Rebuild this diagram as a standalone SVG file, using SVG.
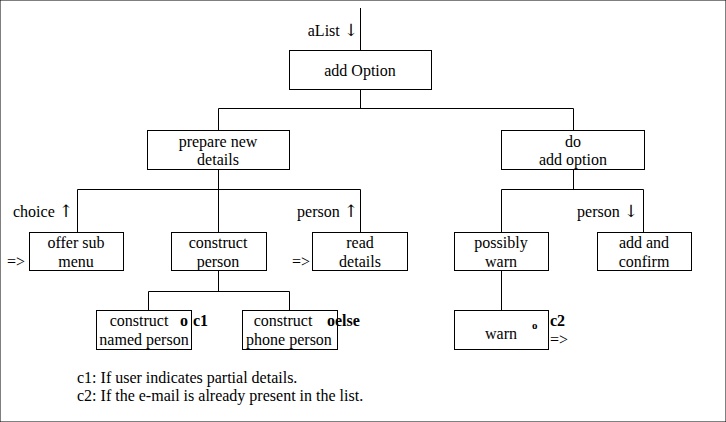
<svg xmlns="http://www.w3.org/2000/svg" width="726" height="422" viewBox="0 0 726 422">
<style>
text{font-family:"Liberation Serif","Times New Roman",serif;font-size:16px;fill:#000}
.c{text-anchor:middle}
.e{text-anchor:end}
.b{font-weight:bold}
.a{font-family:"DejaVu Serif",serif;font-size:17px;fill:#000}
rect{fill:#fff;stroke:#000;stroke-width:1}
line,polyline{stroke:#000;stroke-width:1;fill:none}
</style>
<rect width="726" height="422" fill="#fff" stroke="none"/>
<g id="connectors">
<line x1="360.5" y1="8" x2="360.5" y2="50"/>
<line x1="360.5" y1="89" x2="360.5" y2="108.5"/>
<polyline points="218.5,130 218.5,108.5 573.5,108.5 573.5,130"/>
<line x1="218.5" y1="170" x2="218.5" y2="232"/>
<polyline points="77.5,232 77.5,189.5 360.5,189.5 360.5,232"/>
<line x1="573.5" y1="169" x2="573.5" y2="189.5"/>
<polyline points="501.5,232 501.5,189.5 643.5,189.5 643.5,232"/>
<line x1="218.5" y1="270" x2="218.5" y2="291.5"/>
<polyline points="148.5,310 148.5,291.5 289.5,291.5 289.5,310"/>
<line x1="501.5" y1="270" x2="501.5" y2="310"/>
<text x="358" y="36" class="e">aList <tspan class="a">↓&#xFE0E;</tspan></text>
<text x="73" y="217" class="e">choice <tspan class="a">↑&#xFE0E;</tspan></text>
<text x="358" y="217" class="e">person <tspan class="a">↑&#xFE0E;</tspan></text>
<text x="638" y="217" class="e">person <tspan class="a">↓&#xFE0E;</tspan></text>
<text x="7" y="267">=&gt;</text>
<text x="292" y="267">=&gt;</text>
<text x="550" y="345">=&gt;</text>
</g>
<g id="addOption"><rect x="289.5" y="50.5" width="142" height="39"/><text x="360" y="76" class="c">add Option</text></g>
<g id="prepare"><rect x="147.5" y="130.5" width="142" height="39"/><text x="218" y="147" class="c">prepare new</text><text x="218" y="165" class="c">details</text></g>
<g id="doAdd"><rect x="501.5" y="130.5" width="143" height="39"/><text x="573" y="147" class="c">do</text><text x="573" y="165" class="c">add option</text></g>
<g id="offer"><rect x="29.5" y="232.5" width="94" height="38"/><text x="76" y="248" class="c">offer sub</text><text x="76" y="267" class="c">menu</text></g>
<g id="constructPerson"><rect x="171.5" y="232.5" width="95" height="38"/><text x="218" y="248" class="c">construct</text><text x="218" y="267" class="c">person</text></g>
<g id="readDetails"><rect x="312.5" y="232.5" width="95" height="38"/><text x="360" y="248" class="c">read</text><text x="360" y="267" class="c">details</text></g>
<g id="possiblyWarn"><rect x="454.5" y="232.5" width="94" height="38"/><text x="501" y="248" class="c">possibly</text><text x="501" y="267" class="c">warn</text></g>
<g id="addConfirm"><rect x="597.5" y="232.5" width="94" height="38"/><text x="644" y="248" class="c">add and</text><text x="644" y="267" class="c">confirm</text></g>
<g id="named"><rect x="96.5" y="310.5" width="95" height="39"/><text x="139" y="326" class="c">construct</text><text x="144" y="345" class="c">named person</text><text x="180" y="326" class="b">o</text><text x="193" y="326" class="b">c1</text></g>
<g id="phone"><rect x="242.5" y="310.5" width="95" height="39"/><text x="283" y="326" class="c">construct</text><text x="289" y="345" class="c">phone person</text><text x="327" y="326" class="b">oelse</text></g>
<g id="warn"><rect x="454.5" y="310.5" width="94" height="39"/><text x="501" y="339" class="c">warn</text><text x="532" y="329" class="b" style="font-size:11px">o</text><text x="550" y="326" class="b">c2</text></g>
<g id="notes"><text x="77" y="383">c1: If user indicates partial details.</text><text x="77" y="401">c2: If the e-mail is already present in the list.</text></g>
</svg>
